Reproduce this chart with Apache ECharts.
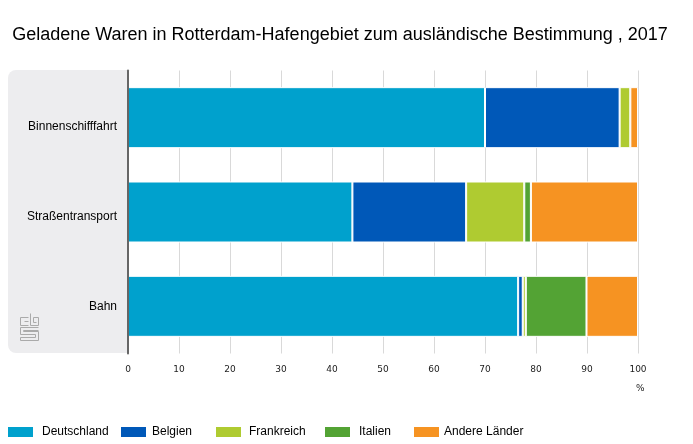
<!DOCTYPE html>
<html>
  <head>
    <meta charset="utf-8" />
    <title>ECharts</title>
    <script src="https://cdn.jsdelivr.net/npm/echarts@6/dist/echarts.min.js"></script>
    <style>
      html, body { margin: 0; padding: 0; background: #fff; }
    </style>
  </head>
  <body>
    <div id="chart" style="width: 693px; height: 444px"></div>
    <script type="text/javascript">
      var categories = ["Binnenschifffahrt", "Straßentransport", "Bahn"];
      var names = ["Deutschland", "Belgien", "Frankreich", "Italien", "Andere Länder"];
      var colors = ["#00a1cd", "#0058b8", "#afcb31", "#53a334", "#f69322"];
      var deutschland = [70, 44, 76.5];
      var belgien = [26.4, 22.3, 0.9];
      var frankreich = [2.1, 11.4, 0.6];
      var italien = [0, 1.3, 11.9];
      var andere = [1.5, 21, 10.1];
      var values = [deutschland, belgien, frankreich, italien, andere];

      // the labels do not sit quite on the bar centres in the original
      var labelPadTop = [18, 10, 0];
      var legendLeft = [8, 121, 216, 325, 414];
      var legendTextGap = [4, 1, 3, 4, 0];

      var font = "Liberation Sans";
      var chart = echarts.init(document.getElementById("chart"));

      var series = names.map(function (name, i) {
        return {
          name: name,
          type: "bar",
          stack: "total",
          barWidth: 61,
          data: values[i],
          itemStyle: { color: colors[i], borderColor: "#fff", borderWidth: 1 },
        };
      });

      var legends = names.map(function (name, i) {
        return {
          data: [{ name: name, icon: "rect" }],
          left: legendLeft[i],
          top: 426,
          padding: 0,
          itemWidth: 25,
          itemHeight: 10,
          itemGap: 0,
          selectedMode: false,
          itemStyle: { borderWidth: 0 },
          textStyle: { fontFamily: font, fontSize: 12, color: "#000", padding: [0, 0, 0, legendTextGap[i]] },
        };
      });

      var labelRich = {};
      labelPadTop.forEach(function (pad, i) {
        labelRich["c" + i] = { fontFamily: font, fontSize: 12, color: "#000", padding: [pad, 0, 0, 0] };
      });

      // cbs logo, plain strokes
      var logoStroke = { stroke: "#aaa", fill: null, lineWidth: 1 };
      var logoParts = [
        [[28.5, 317.5], [20.5, 317.5], [20.5, 325.5], [28.5, 325.5]],
        [[28.5, 321.5], [24.5, 321.5]],
        [[30.5, 313.5], [30.5, 325.5], [38.5, 325.5], [38.5, 317.5], [33.5, 317.5], [33.5, 322.5], [36.5, 322.5]],
        [[38.5, 327.5], [20.5, 327.5], [20.5, 334.5], [35.5, 334.5], [35.5, 337.5], [20.5, 337.5], [20.5, 340.5], [38.5, 340.5], [38.5, 331.5], [23.5, 331.5], [23.5, 330.5], [38.5, 330.5]],
      ];

      var graphics = [
        {
          type: "rect",
          z: -1,
          shape: { x: 8, y: 70, width: 120, height: 283, r: [8, 0, 0, 8] },
          style: { fill: "#ededef" },
        },
        {
          type: "text",
          x: 636,
          y: 384,
          style: { text: "%", fontFamily: "DejaVu Sans", fontSize: 9, fill: "#222" },
        },
      ].concat(
        logoParts.map(function (p) {
          return { type: "polyline", shape: { points: p }, style: logoStroke };
        })
      );

      var option = {
        animation: false,
        title: {
          text: "Geladene Waren in Rotterdam-Hafengebiet zum ausländische Bestimmung , 2017",
          left: 335,
          top: 21,
          textAlign: "center",
          textStyle: { fontFamily: font, fontSize: 18, fontWeight: "normal", color: "#000" },
        },
        legend: legends,
        grid: { left: 128, right: 55, top: 70.5, height: 283 },
        xAxis: {
          type: "value",
          min: 0,
          max: 100,
          interval: 10,
          axisLine: { show: false },
          axisTick: { show: false },
          axisLabel: { fontFamily: "DejaVu Sans", fontSize: 9, color: "#222", margin: 12 },
          splitLine: { lineStyle: { color: "#d9d9d9", width: 1 } },
        },
        yAxis: {
          type: "category",
          inverse: true,
          z: 5,
          data: categories,
          axisLine: { onZero: false, lineStyle: { color: "#666", width: 2 } },
          axisTick: { show: false },
          axisLabel: {
            margin: 11,
            formatter: function (value, index) {
              return "{c" + index + "|" + value + "}";
            },
            rich: labelRich,
          },
        },
        series: series,
        graphic: graphics,
      };
      chart.setOption(option);
    </script>
  </body>
</html>
